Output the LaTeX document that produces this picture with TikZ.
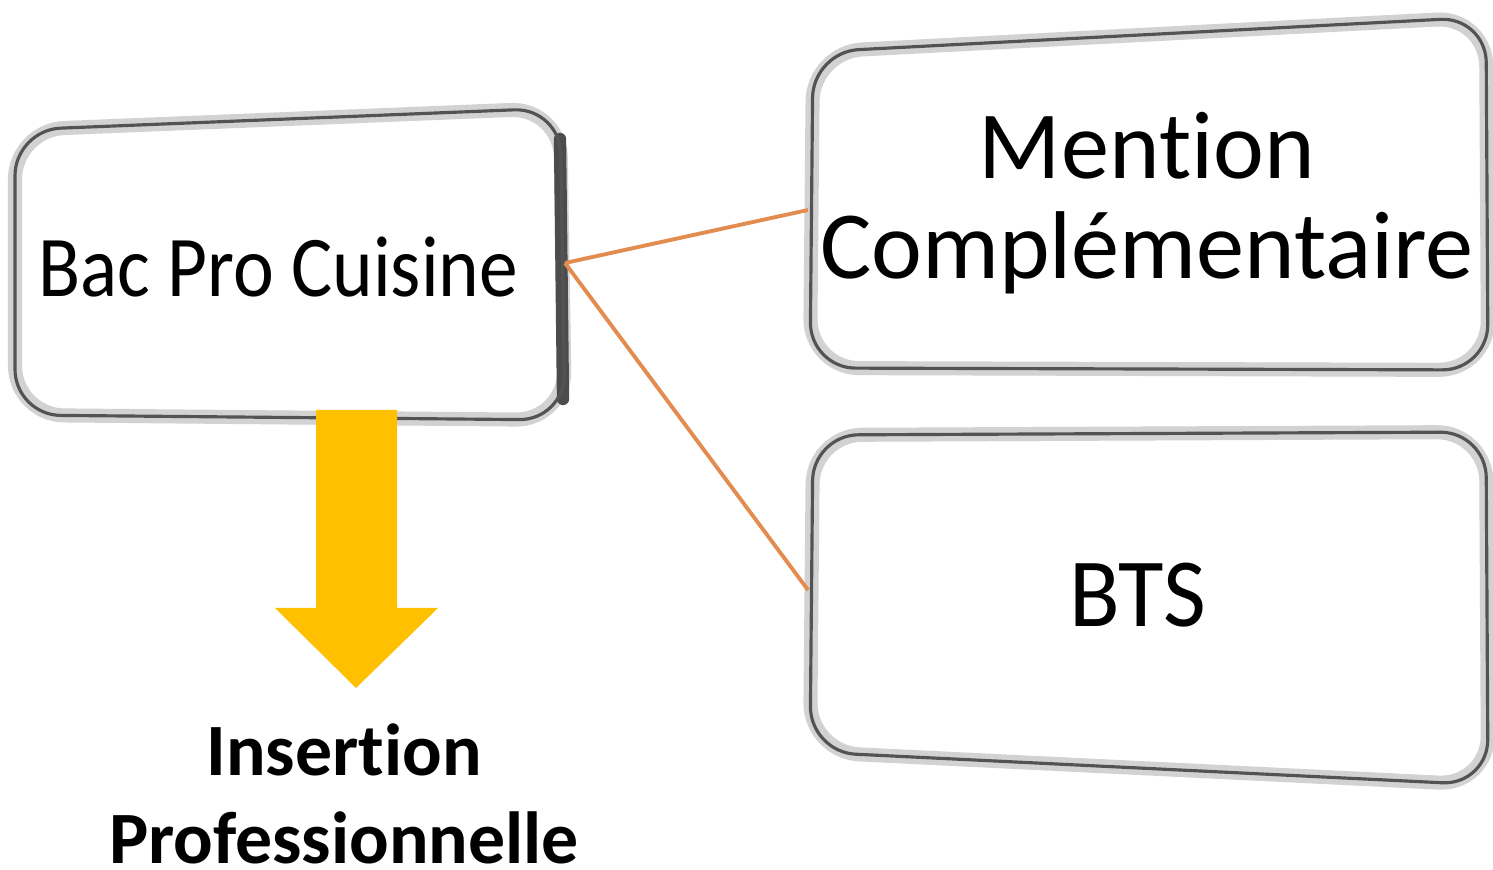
\documentclass[tikz,border=0pt]{standalone}
\usepackage{fontspec}
\setmainfont{Carlito}[Ligatures=NoCommon,RawFeature=-calt,RawFeature=-dlig]
\definecolor{linkorange}{RGB}{228,140,80}
\definecolor{arrowyellow}{RGB}{255,192,0}
\tikzset{
	card/.style={fill=white,draw=gray!35,line width=4pt,rounded corners=14pt},
	card rim/.style={draw=gray!65!black,line width=0.9pt,rounded corners=13pt},
	card shadow/.style={draw=black!70,line width=3.5pt,line cap=round},
	link/.style={draw=linkorange,line width=1.1pt},
	label/.style={inner sep=0pt,align=center}
}
\begin{document}
\begin{tikzpicture}
	\useasboundingbox (0,0) rectangle (14.93,8.69);
	\fill[white] (0,0) rectangle (14.93,8.69);
	\draw[card] (0.15,7.39)--(5.60,7.61)--(5.65,4.49)--(0.15,4.54)--cycle;
	\draw[card shadow] (5.60,7.30)--(5.63,4.70);
	\draw[card rim] (0.15,7.39)--(5.60,7.61)--(5.65,4.49)--(0.15,4.54)--cycle;
	\draw[card] (8.13,8.17)--(14.86,8.52)--(14.88,4.99)--(8.10,5.01)--cycle;
	\draw[card rim] (8.13,8.17)--(14.86,8.52)--(14.88,4.99)--(8.10,5.01)--cycle;
	\draw[card] (8.13,4.34)--(14.86,4.37)--(14.88,0.84)--(8.10,1.17)--cycle;
	\draw[card rim] (8.13,4.34)--(14.86,4.37)--(14.88,0.84)--(8.10,1.17)--cycle;
	\node[label,anchor=base,font=\fontsize{22}{26}\selectfont] (bac) at (2.78,5.72) {\scalebox{1}[1.12]{Bac Pro Cuisine}};
	\node[label,font=\fontsize{27.4}{28.5}\selectfont] (mc) at (11.47,6.66) {Men\kern0pt tion\\Complémentaire};
	\node[label,anchor=base,font=\fontsize{26.5}{28}\selectfont] (bts) at (11.38,2.42) {\scalebox{1}[1.05]{BTS}};
	\node[label,font=\bfseries\fontsize{21}{25}\selectfont] (insertion) at (3.44,0.75) {Inser\kern0pt tion\\Professionnelle};
	\coordinate (bac-e) at (5.65,6.06);
	\coordinate (mc-w) at (8.08,6.59);
	\coordinate (bts-w) at (8.08,2.79);
	\draw[link] (bac-e)--(mc-w);
	\draw[link] (bac-e)--(bts-w);
	\fill[arrowyellow] (3.16,4.59)--(3.97,4.59)--(3.97,2.61)--(4.38,2.61)--(3.56,1.81)--(2.75,2.61)--(3.16,2.61)--cycle;
\end{tikzpicture}
\end{document}
